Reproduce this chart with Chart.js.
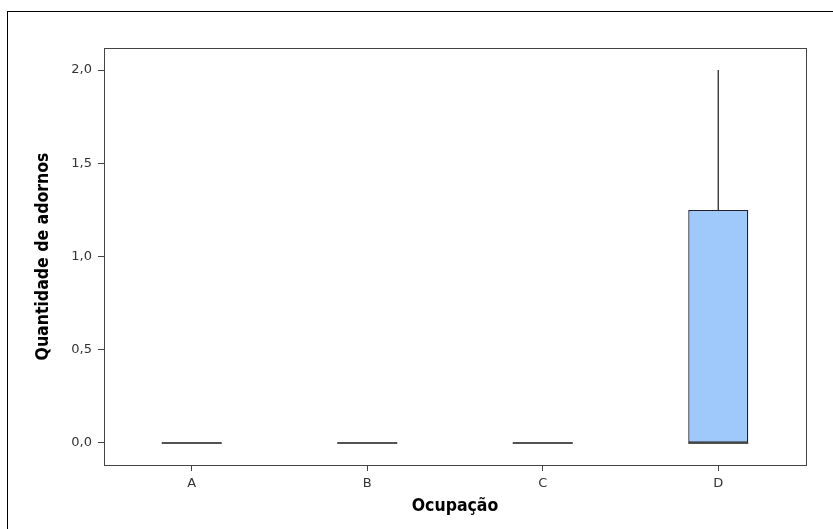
<!DOCTYPE html>
<html>
<head>
<meta charset="utf-8">
<script src="https://cdn.jsdelivr.net/npm/chart.js@4.4.1/dist/chart.umd.min.js"></script>
<style>
    html, body { margin: 0; padding: 0; background: #fff; }
    #wrap { position: relative; width: 833px; height: 529px; }
</style>
</head>
<body>
<div id="wrap"><canvas id="chart" width="833" height="529"></canvas></div>
<script>
// box plot values per occupation
var categories = ['A', 'B', 'C', 'D'];
var q1 = [0, 0, 0, 0];
var median = [0, 0, 0, 0];
var q3 = [0, 0, 0, 1.25];
var whiskerLow = [0, 0, 0, 0];
var whiskerHigh = [0, 0, 0, 2.0];
var yTicks = [0, 0.5, 1.0, 1.5, 2.0];

var boxes = categories.map(function (c, i) { return [q1[i], q3[i]]; });

var narrowBold = "'Liberation Sans Narrow', 'DejaVu Sans Condensed', 'Arial Narrow', sans-serif";
var tickFont = "'DejaVu Sans', Verdana, sans-serif";

// frame of the whole graph + frame of the plot area
var framePlugin = {
    id: 'frames',
    beforeDraw: function (chart) {
        var ctx = chart.ctx;
        ctx.save();
        ctx.strokeStyle = '#000';
        ctx.lineWidth = 1;
        ctx.strokeRect(7.5, 11.5, 900, 600);
        ctx.restore();
    },
    afterDraw: function (chart) {
        var ctx = chart.ctx, a = chart.chartArea;
        ctx.save();
        ctx.strokeStyle = '#444';
        ctx.lineWidth = 1;
        ctx.strokeRect(Math.round(a.left) + 0.5, Math.round(a.top) + 0.5, Math.round(a.right - a.left), Math.round(a.bottom - a.top));
        ctx.restore();
    }
};

// median lines and whiskers, through the y scale
var boxPlugin = {
    id: 'boxparts',
    afterDatasetsDraw: function (chart) {
        var ctx = chart.ctx;
        var y = chart.scales.y;
        var meta = chart.getDatasetMeta(0);
        ctx.save();
        ctx.strokeStyle = '#1a1a1a';
        meta.data.forEach(function (bar, i) {
            var half = bar.width / 2;
            // whiskers
            ctx.lineWidth = 1.2;
            if (whiskerHigh[i] > q3[i]) {
                ctx.beginPath();
                ctx.moveTo(bar.x, y.getPixelForValue(q3[i]));
                ctx.lineTo(bar.x, y.getPixelForValue(whiskerHigh[i]));
                ctx.stroke();
            }
            if (whiskerLow[i] < q1[i]) {
                ctx.beginPath();
                ctx.moveTo(bar.x, y.getPixelForValue(q1[i]));
                ctx.lineTo(bar.x, y.getPixelForValue(whiskerLow[i]));
                ctx.stroke();
            }
            // median
            ctx.lineWidth = 1.5;
            var my = y.getPixelForValue(median[i]);
            ctx.beginPath();
            ctx.moveTo(bar.x - half, my);
            ctx.lineTo(bar.x + half, my);
            ctx.stroke();
        });
        ctx.restore();
    }
};

new Chart(document.getElementById('chart'), {
    type: 'bar',
    data: {
        labels: categories,
        datasets: [{
            data: boxes,
            backgroundColor: '#9ec9fa',
            borderColor: '#1c2030',
            borderWidth: 1.3,
            borderSkipped: false,
            categoryPercentage: 1,
            barPercentage: 0.342
        }]
    },
    options: {
        responsive: false,
        animation: false,
        layout: { padding: { top: 48, right: 27, left: 0, bottom: 0 } },
        plugins: {
            legend: { display: false },
            tooltip: { enabled: false }
        },
        scales: {
            x: {
                offset: true,
                afterFit: function (scale) { scale.height = 64; },
                border: { display: false },
                grid: { offset: false, drawOnChartArea: false, drawTicks: true, tickLength: 6, color: '#444' },
                ticks: { color: '#333', font: { family: tickFont, size: 13 }, padding: 5 },
                title: {
                    display: true,
                    text: 'Ocupação',
                    color: '#000',
                    font: { family: narrowBold, size: 17.5, weight: 'bold' },
                    padding: { top: 0, bottom: 12 }
                }
            },
            y: {
                min: -0.118,
                max: 2.118,
                afterFit: function (scale) { scale.width = 104; },
                afterBuildTicks: function (scale) {
                    scale.ticks = yTicks.map(function (v) { return { value: v }; });
                },
                border: { display: false },
                grid: { drawOnChartArea: false, drawTicks: true, tickLength: 6, color: '#444' },
                ticks: {
                    color: '#333',
                    font: { family: tickFont, size: 13 },
                    padding: 6,
                    callback: function (v) { return Number(v).toFixed(1).replace('.', ','); }
                },
                title: {
                    display: true,
                    text: 'Quantidade de adornos',
                    color: '#000',
                    font: { family: narrowBold, size: 17.5, weight: 'bold' },
                    padding: { top: 33, bottom: 0 }
                }
            }
        }
    },
    plugins: [framePlugin, boxPlugin]
});
</script>
</body>
</html>
